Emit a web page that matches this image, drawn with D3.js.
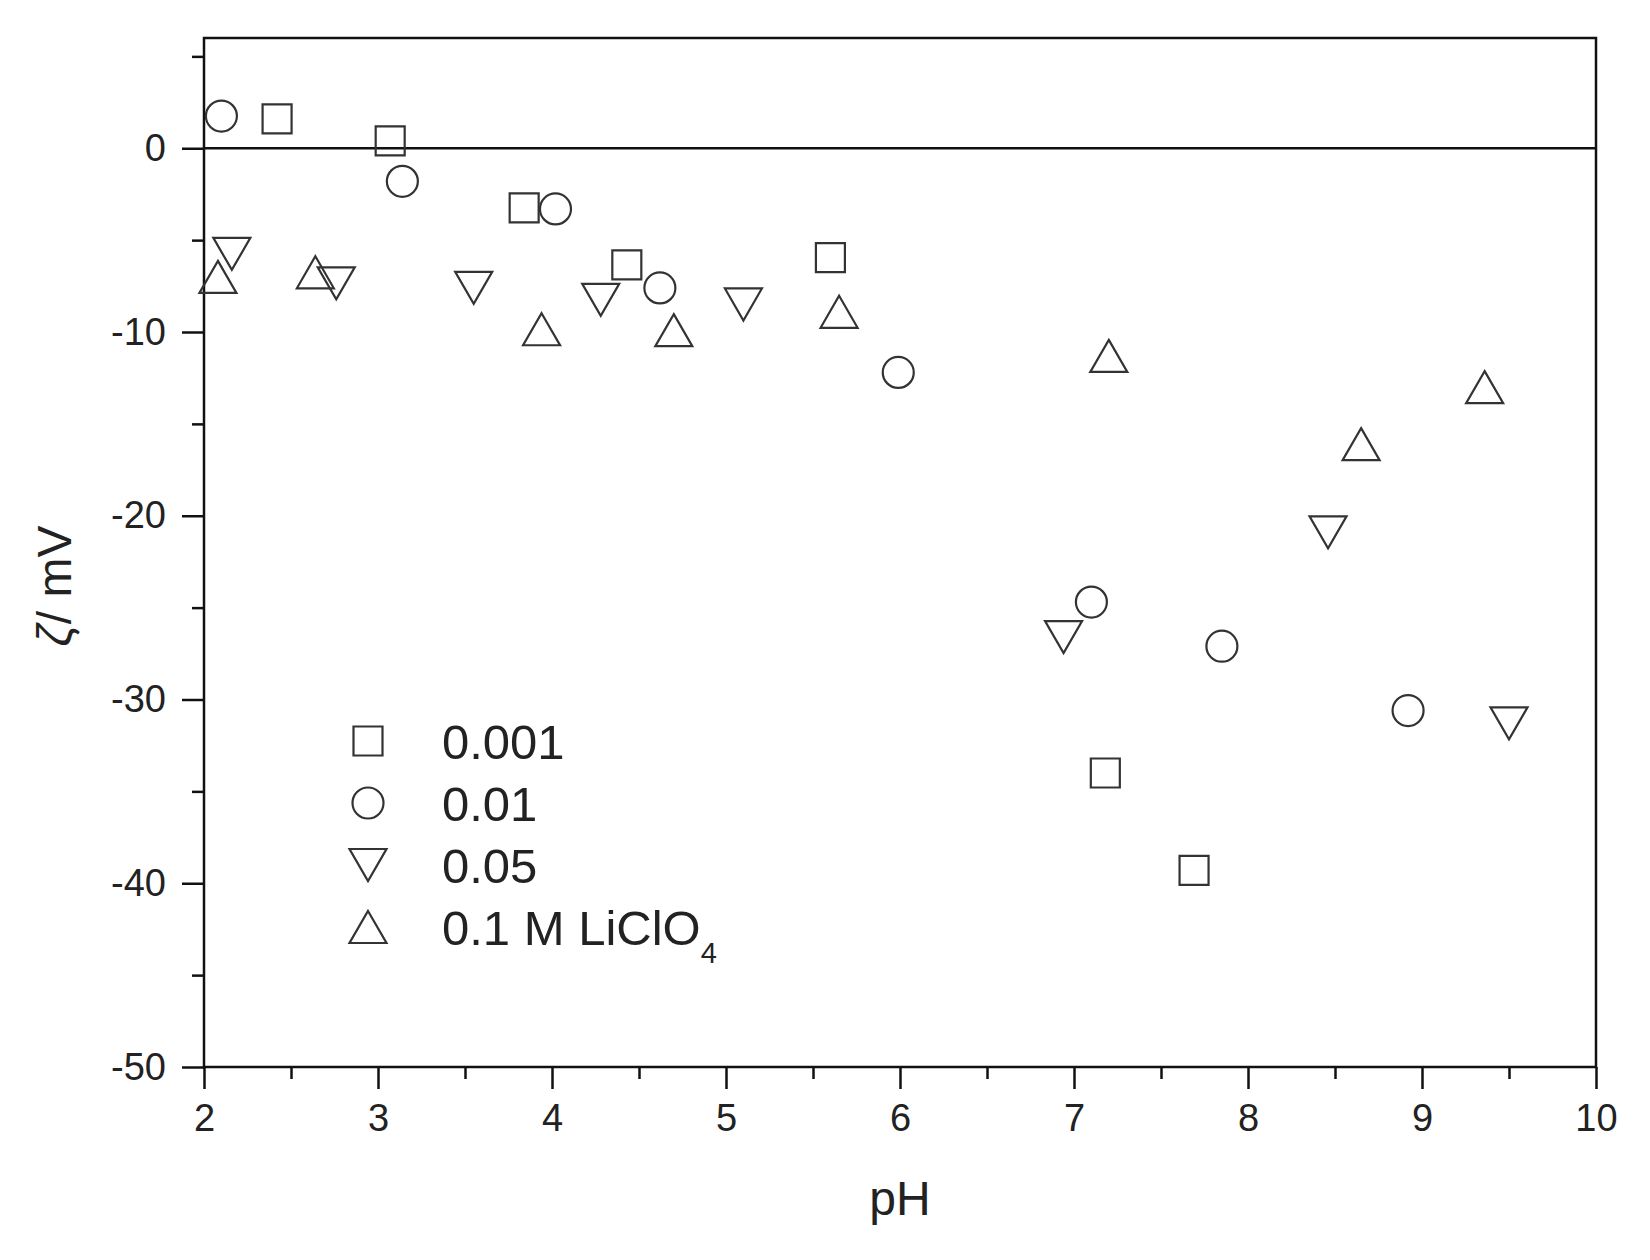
<!DOCTYPE html>
<html>
<head>
<meta charset="utf-8">
<script src="https://cdn.jsdelivr.net/npm/d3@7"></script>
<style>
  body { margin: 0; background: #fff; }
  svg { display: block; }
  text { font-family: "Liberation Sans", Arial, sans-serif; fill: #222; }
</style>
</head>
<body>
<svg id="chart"></svg>
<script>
// pH / zeta potential readings, one pair of arrays per electrolyte concentration
const phSquare = [2.42, 3.07, 3.84, 4.43, 5.60, 7.18, 7.69];
const zetaSquare = [1.6, 0.4, -3.25, -6.35, -5.95, -34.0, -39.3];

const phCircle = [2.10, 3.14, 4.02, 4.62, 5.99, 7.10, 7.85, 8.92];
const zetaCircle = [1.75, -1.8, -3.3, -7.6, -12.2, -24.7, -27.1, -30.6];

const phDown = [2.16, 2.76, 3.55, 4.28, 5.10, 6.94, 8.46, 9.50];
const zetaDown = [-5.75, -7.35, -7.6, -8.25, -8.5, -26.6, -20.9, -31.3];

const phUp = [2.08, 2.64, 3.94, 4.70, 5.65, 7.20, 8.65, 9.36];
const zetaUp = [-7.0, -6.75, -9.85, -9.9, -8.9, -11.3, -16.1, -13.0];

const legendLabels = ["0.001", "0.01", "0.05", "0.1 M LiClO"];
const xTicks = [2, 3, 4, 5, 6, 7, 8, 9, 10];
const yTicks = [0, -10, -20, -30, -40, -50];

const width = 1650, height = 1260;
const margin = { top: 38, right: 54, bottom: 193, left: 204 };

const svg = d3.select("#chart")
  .attr("width", width)
  .attr("height", height)
  .attr("viewBox", [0, 0, width, height]);

const x = d3.scaleLinear()
  .domain([2, 10])
  .range([margin.left, width - margin.right]);

const y = d3.scaleLinear()
  .domain([-50, 6])
  .range([height - margin.bottom, margin.top]);

const ink = "#111";
const markInk = "#333";
const plain = d => String(d); // keep the ascii hyphen like the original

// minor ticks first, major on top
const xMinor = d3.range(2.5, 10, 1);
const yMinor = d3.range(5, -50, -10);

svg.append("g")
  .attr("transform", `translate(0,${y(-50)})`)
  .call(d3.axisBottom(x).tickValues(xMinor).tickSize(12).tickFormat("").tickSizeOuter(0))
  .call(g => g.select(".domain").remove())
  .call(g => g.selectAll("line").attr("stroke", ink).attr("stroke-width", 2.5));

svg.append("g")
  .attr("transform", `translate(${x(2)},0)`)
  .call(d3.axisLeft(y).tickValues(yMinor).tickSize(12).tickFormat("").tickSizeOuter(0))
  .call(g => g.select(".domain").remove())
  .call(g => g.selectAll("line").attr("stroke", ink).attr("stroke-width", 2.5));

svg.append("g")
  .attr("transform", `translate(0,${y(-50)})`)
  .call(d3.axisBottom(x).tickValues(xTicks).tickFormat(plain).tickSize(22).tickPadding(15).tickSizeOuter(0))
  .call(g => g.select(".domain").remove())
  .call(g => g.selectAll("line").attr("stroke", ink).attr("stroke-width", 2.5))
  .call(g => g.selectAll("text").attr("font-size", 38).attr("fill", "#222")
    .style("font-family", '"Liberation Sans", Arial, sans-serif'));

svg.append("g")
  .attr("transform", `translate(${x(2)},0)`)
  .call(d3.axisLeft(y).tickValues(yTicks).tickFormat(plain).tickSize(22).tickPadding(16).tickSizeOuter(0))
  .call(g => g.select(".domain").remove())
  .call(g => g.selectAll("line").attr("stroke", ink).attr("stroke-width", 2.5))
  .call(g => g.selectAll("text").attr("font-size", 38).attr("fill", "#222")
    .style("font-family", '"Liberation Sans", Arial, sans-serif'));

// frame and zero line
svg.append("rect")
  .attr("x", x(2))
  .attr("y", y(6))
  .attr("width", x(10) - x(2))
  .attr("height", y(-50) - y(6))
  .attr("fill", "none")
  .attr("stroke", ink)
  .attr("stroke-width", 2.5);

svg.append("line")
  .attr("x1", x(2)).attr("x2", x(10))
  .attr("y1", y(0)).attr("y2", y(0))
  .attr("stroke", ink)
  .attr("stroke-width", 2.5);

// marker shapes, centred on the bounding box
const shapePath = (shape, cx, cy) => {
  const p = d3.path();
  if (shape === "square") {
    const s = 14.5;
    p.rect(cx - s, cy - s, 2 * s, 2 * s);
  } else if (shape === "circle") {
    p.moveTo(cx + 15.5, cy);
    p.arc(cx, cy, 15.5, 0, 2 * Math.PI);
  } else if (shape === "down") {
    p.moveTo(cx - 18.5, cy - 16);
    p.lineTo(cx + 18.5, cy - 16);
    p.lineTo(cx, cy + 16);
    p.closePath();
  } else {
    p.moveTo(cx, cy - 16);
    p.lineTo(cx + 18.5, cy + 16);
    p.lineTo(cx - 18.5, cy + 16);
    p.closePath();
  }
  return p.toString();
};

const series = [
  { shape: "square", ph: phSquare, zeta: zetaSquare },
  { shape: "circle", ph: phCircle, zeta: zetaCircle },
  { shape: "down", ph: phDown, zeta: zetaDown },
  { shape: "up", ph: phUp, zeta: zetaUp }
];

series.forEach(s => {
  svg.append("g")
    .selectAll("path")
    .data(s.ph.map((p, i) => [p, s.zeta[i]]))
    .join("path")
    .attr("d", d => shapePath(s.shape, x(d[0]), y(d[1])))
    .attr("fill", "none")
    .attr("stroke", markInk)
    .attr("stroke-width", 2.2)
    .attr("stroke-linejoin", "miter");
});

// legend
const legend = svg.append("g");
const legendX = 368, legendY0 = 741, legendStep = 62;

series.forEach((s, i) => {
  const ly = legendY0 + i * legendStep;
  legend.append("path")
    .attr("d", shapePath(s.shape, legendX, ly))
    .attr("fill", "none")
    .attr("stroke", markInk)
    .attr("stroke-width", 2.2);

  const t = legend.append("text")
    .attr("x", 442)
    .attr("y", ly)
    .attr("dy", "0.36em")
    .attr("font-size", 49)
    .text(legendLabels[i]);
  if (i === 3) {
    t.append("tspan")
      .attr("font-size", 29)
      .attr("dy", "0.65em")
      .text("4");
  }
});

// axis titles
svg.append("text")
  .attr("x", (x(2) + x(10)) / 2)
  .attr("y", 1215)
  .attr("text-anchor", "middle")
  .attr("font-size", 48)
  .text("pH");

svg.append("text")
  .attr("transform", "translate(71,586) rotate(-90)")
  .attr("text-anchor", "middle")
  .attr("font-size", 48)
  .call(t => t.append("tspan").attr("font-style", "italic").text("ζ"))
  .call(t => t.append("tspan").text("/ mV"));
</script>
</body>
</html>
